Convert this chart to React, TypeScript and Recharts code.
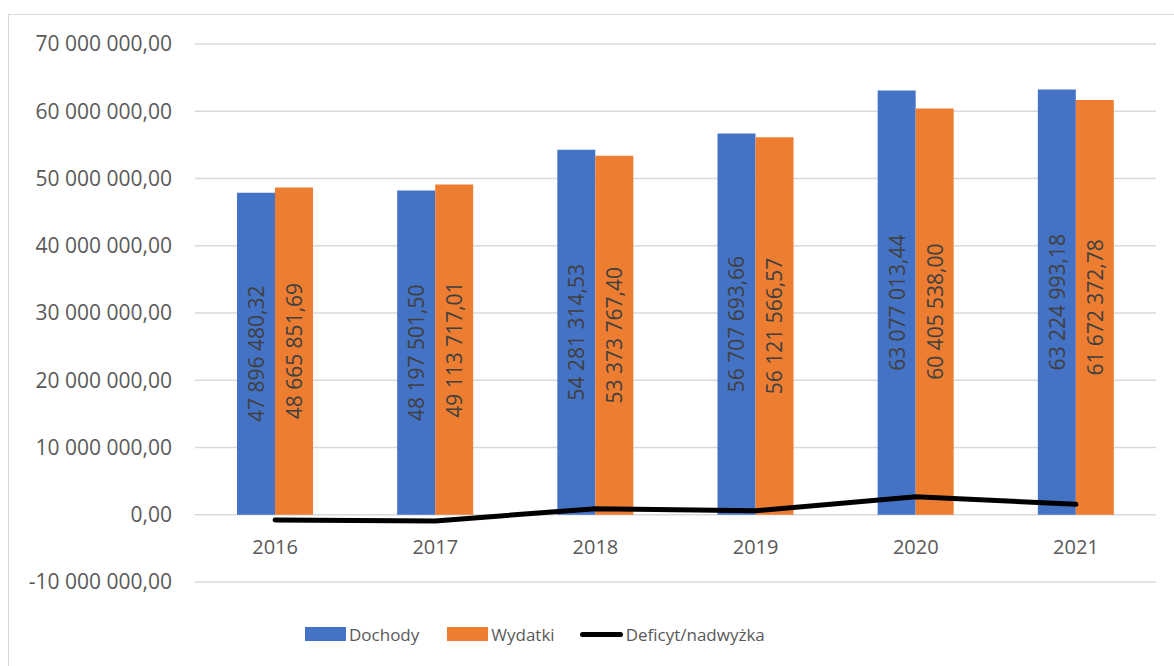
import { ComposedChart, Bar, Line, XAxis, YAxis, CartesianGrid, Legend, LabelList } from 'recharts';

const years = ['2016', '2017', '2018', '2019', '2020', '2021'];
const dochody = [47896480.32, 48197501.5, 54281314.53, 56707693.66, 63077013.44, 63224993.18];
const wydatki = [48665851.69, 49113717.01, 53373767.4, 56121566.57, 60405538.0, 61672372.78];
const deficyt = [-769371.37, -916215.51, 907547.13, 586127.09, 2671475.44, 1552620.4];
const yTicks = [-10000000, 0, 10000000, 20000000, 30000000, 40000000, 50000000, 60000000, 70000000];

const data = years.map((year, i) => ({
  year,
  dochody: dochody[i],
  wydatki: wydatki[i],
  deficyt: deficyt[i],
}));

const FONT = '"Open Sans", sans-serif';
const BLUE = '#4472C4';
const ORANGE = '#ED7D31';

// 47 896 480,32 style
function fmt(v: number) {
  const neg = v < 0;
  const [int, dec] = Math.abs(v).toFixed(2).split('.');
  const grouped = int.replace(/\B(?=(\d{3})+(?!\d))/g, ' ');
  return (neg ? '-' : '') + grouped + ',' + dec;
}

const BarLabel = (props: any) => {
  const { x, y, width, height, value } = props;
  const cx = x + width / 2;
  const cy = y + height / 2;
  return (
    <text
      x={cx}
      y={cy}
      transform={`rotate(-90 ${cx} ${cy})`}
      textAnchor="middle"
      dominantBaseline="central"
      fill="#404040"
      fontSize={21}
      fontFamily={FONT}
    >
      {fmt(value)}
    </text>
  );
};

const YearTick = (props: any) => {
  const { x, y, payload } = props;
  return (
    <text x={x} y={y - 28} textAnchor="middle" fill="#595959" fontSize={20} fontFamily={FONT}>
      {payload.value}
    </text>
  );
};

const LegendContent = () => {
  const item = { display: 'flex', alignItems: 'center' } as const;
  const label = { marginLeft: 3, color: '#595959', fontSize: 17, fontFamily: FONT };
  return (
    <div style={{ display: 'flex', alignItems: 'center', height: 30 }}>
      <div style={item}>
        <div style={{ width: 41, height: 14, background: BLUE }} />
        <span style={label}>Dochody</span>
      </div>
      <div style={{ ...item, marginLeft: 28 }}>
        <div style={{ width: 41, height: 14, background: ORANGE }} />
        <span style={label}>Wydatki</span>
      </div>
      <div style={{ ...item, marginLeft: 25 }}>
        <div style={{ width: 43, height: 5, borderRadius: 3, background: '#000' }} />
        <span style={label}>Deficyt/nadwyżka</span>
      </div>
    </div>
  );
};

export default function App() {
  return (
    <div style={{ position: 'absolute', left: 0, top: 0, width: 1174, height: 666, overflow: 'hidden', background: '#fff' }}>
      <div
        style={{
          position: 'absolute',
          left: 8,
          top: 14,
          width: 1165,
          height: 651,
          borderTop: '1px solid #d9d9d9',
          borderLeft: '1px solid #d9d9d9',
        }}
      >
        <ComposedChart
          width={1165}
          height={651}
          data={data}
          margin={{ top: 29, right: 18, bottom: 17, left: 0 }}
          barGap={0}
        >
          <CartesianGrid vertical={false} stroke="#d9d9d9" strokeWidth={1.3} />
          <XAxis
            dataKey="year"
            axisLine={false}
            tickLine={false}
            tickSize={0}
            tickMargin={0}
            height={37}
            tick={<YearTick />}
          />
          <YAxis
            domain={[-10000000, 70000000]}
            ticks={yTicks}
            axisLine={false}
            tickLine={false}
            tickSize={0}
            tickMargin={23}
            width={186}
            tickFormatter={(v: number) => fmt(v)}
            tick={{ fill: '#595959', fontSize: 21, fontFamily: FONT }}
          />
          <Legend
            verticalAlign="bottom"
            height={30}
            content={<LegendContent />}
            wrapperStyle={{ left: 296, width: 'auto' }}
          />
          <Bar dataKey="dochody" name="Dochody" fill={BLUE} barSize={38} isAnimationActive={false}>
            <LabelList dataKey="dochody" content={<BarLabel />} />
          </Bar>
          <Bar dataKey="wydatki" name="Wydatki" fill={ORANGE} barSize={38} isAnimationActive={false}>
            <LabelList dataKey="wydatki" content={<BarLabel />} />
          </Bar>
          <Line
            dataKey="deficyt"
            name="Deficyt/nadwyżka"
            type="linear"
            stroke="#000"
            strokeWidth={5}
            strokeLinecap="round"
            dot={false}
            activeDot={false}
            isAnimationActive={false}
          />
        </ComposedChart>
      </div>
    </div>
  );
}
